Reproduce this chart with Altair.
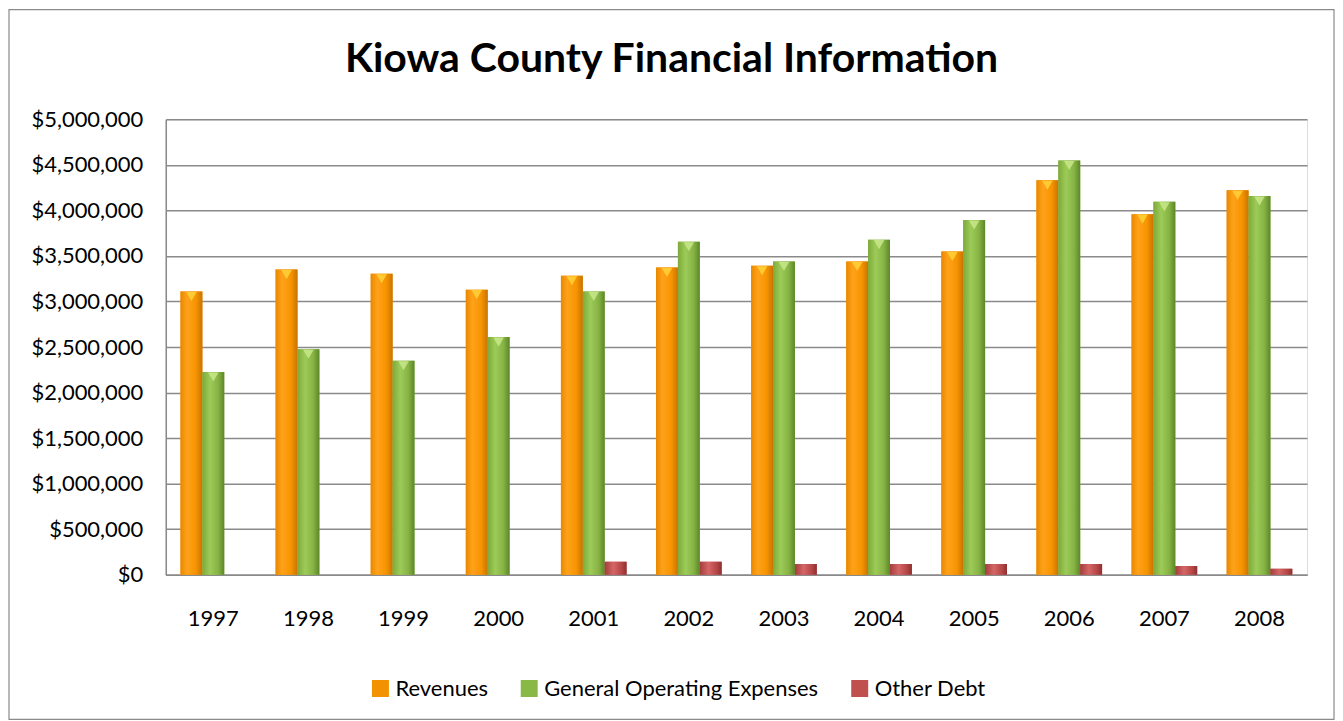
import altair as alt
import pandas as pd

years = ["1997", "1998", "1999", "2000", "2001", "2002", "2003", "2004", "2005", "2006", "2007", "2008"]
revenues = [3110000, 3350000, 3305000, 3130000, 3283000, 3373000, 3392000, 3439000, 3548000, 4331000, 3959000, 4221000]
expenses = [2225000, 2475000, 2350000, 2609000, 3111000, 3657000, 3439000, 3679000, 3894000, 4549000, 4094000, 4159000]
other_debt = [None, None, None, None, 142000, 142000, 117000, 117000, 117000, 117000, 95000, 65000]
series_names = ["Revenues", "General Operating Expenses", "Other Debt"]
legend_colors = ["#F39200", "#8AB846", "#C0504D"]
y_ticks = [0, 500000, 1000000, 1500000, 2000000, 2500000, 3000000, 3500000, 4000000, 4500000, 5000000]
title_text = "Kiowa County Financial Information"

rows = []
for name, vals in zip(series_names, [revenues, expenses, other_debt]):
    for yr, v in zip(years, vals):
        if v is not None:
            rows.append({"year": yr, "series": name, "value": v})
df = pd.DataFrame(rows)

W, H = 1143, 456
FONT = "Lato"

gradients = {
    "Revenues": [("#E88800", 0), ("#FFA21A", 0.3), ("#F79400", 0.7), ("#C97400", 1)],
    "General Operating Expenses": [("#7DAA3A", 0), ("#9DCB58", 0.35), ("#86B344", 0.72), ("#5C8729", 1)],
    "Other Debt": [("#A43D3D", 0), ("#D56666", 0.4), ("#B84848", 0.75), ("#8E3030", 1)],
}
tops = {"Revenues": "#FFD23A", "General Operating Expenses": "#C8E88A"}

x_enc = alt.X("year:N", sort=years,
              scale=alt.Scale(paddingInner=0.31, paddingOuter=0.155),
              axis=alt.Axis(title=None, labelAngle=0, labelFont=FONT, labelFontSize=22,
                            labelColor="#000", labelPadding=44, labelBaseline="middle",
                            ticks=False, domain=True, domainColor="#8a8a8a", domainWidth=1.5,
                            grid=False))
xo_enc = alt.XOffset("series:N", sort=series_names,
                     scale=alt.Scale(domain=series_names, paddingInner=0, paddingOuter=0))
y_enc = alt.Y("value:Q",
              scale=alt.Scale(domain=[0, 5000000], nice=False),
              axis=alt.Axis(title=None, values=y_ticks, format="$,.0f", labelFont=FONT,
                            labelFontSize=22, labelColor="#000", labelPadding=23,
                            ticks=False, domain=True, domainColor="#8a8a8a", domainWidth=1.5,
                            grid=True, gridColor="#8a8a8a", gridWidth=1.5))

base = alt.Chart(df).mark_bar().encode(
    x=x_enc, xOffset=xo_enc, y=y_enc,
    color=alt.Color("series:N", sort=series_names,
                    scale=alt.Scale(domain=series_names, range=legend_colors),
                    legend=alt.Legend(title=None, orient="none", direction="horizontal",
                                      legendX=204, legendY=559, labelFont=FONT, labelFontSize=22,
                                      labelColor="#000", symbolType="square", symbolSize=289,
                                      symbolStrokeWidth=0, labelOffset=4, columnPadding=30,
                                      labelLimit=0, padding=0)),
)

layers = [base]
for name in series_names:
    stops = [alt.GradientStop(color=c, offset=o) for c, o in gradients[name]]
    layers.append(
        alt.Chart(df).transform_filter(alt.datum.series == name).mark_bar(
            color=alt.Gradient(gradient="linear", stops=stops, x1=0, x2=1, y1=0, y2=0)
        ).encode(x=alt.X("year:N", sort=years), xOffset=alt.XOffset("series:N", sort=series_names), y="value:Q")
    )
    if name in tops:
        layers.append(
            alt.Chart(df).transform_filter(alt.datum.series == name).mark_point(
                shape="triangle-down", filled=True, fill=tops[name], opacity=0.85, size=110, yOffset=5
            ).encode(x=alt.X("year:N", sort=years), xOffset=alt.XOffset("series:N", sort=series_names), y="value:Q")
        )

frame = alt.Chart(alt.Data(values=[{}])).mark_rect(fill="transparent", stroke="#8a8a8a", strokeWidth=1.2).encode(
    x=alt.value(-157), x2=alt.value(1170), y=alt.value(-110), y2=alt.value(601)
)
title = alt.Chart(alt.Data(values=[{"t": title_text}])).mark_text(
    font=FONT, fontSize=41, fontWeight="bold", color="#000", align="center", baseline="alphabetic"
).encode(text="t:N", x=alt.value(506.5), y=alt.value(-47))

chart = alt.layer(frame, *layers, title).properties(
    width=W, height=H, padding=0
).configure_view(stroke=None).configure(background="white")

chart.save("out.html", embed_options={"renderer": "svg", "actions": False})
